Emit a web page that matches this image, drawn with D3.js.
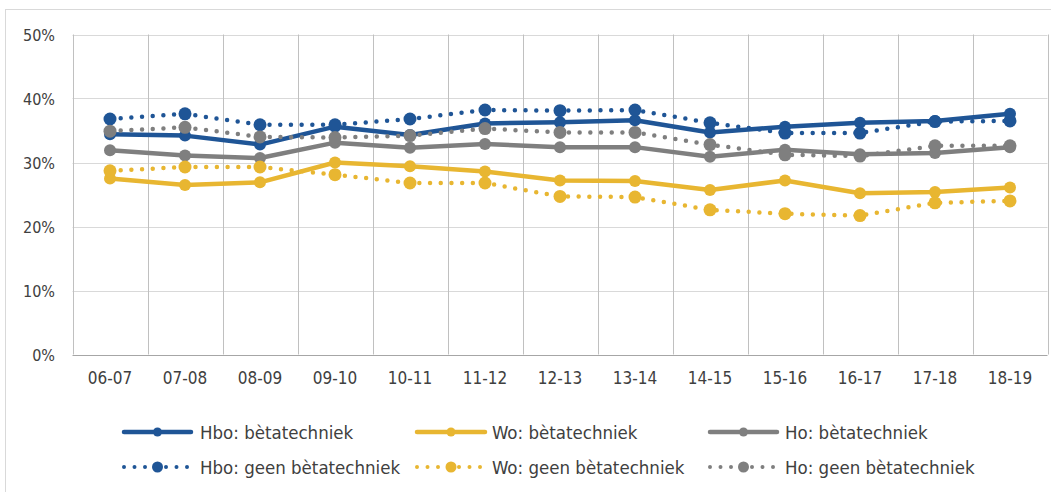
<!DOCTYPE html>
<html>
<head>
<meta charset="utf-8">
<script src="https://cdn.jsdelivr.net/npm/d3@7"></script>
<style>
  html, body { margin: 0; padding: 0; background: #ffffff; }
  svg { display: block; }
  text { font-family: "DejaVu Sans Condensed", "DejaVu Sans", sans-serif; font-stretch: condensed; fill: #404040; }
</style>
</head>
<body>
<svg id="chart" width="1051" height="492"></svg>
<script>
// Schooljaren
const categories = ["06-07", "07-08", "08-09", "09-10", "10-11", "11-12", "12-13",
                    "13-14", "14-15", "15-16", "16-17", "17-18", "18-19"];

// Percentages per reeks
const hboBeta     = [34.4, 34.2, 32.8, 35.6, 34.3, 36.1, 36.3, 36.6, 34.7, 35.6, 36.2, 36.5, 37.6];
const woBeta      = [27.5, 26.5, 26.9, 30.0, 29.4, 28.6, 27.2, 27.1, 25.7, 27.2, 25.2, 25.4, 26.1];
const hoBeta      = [31.9, 31.1, 30.7, 33.1, 32.3, 32.9, 32.4, 32.4, 30.9, 32.0, 31.3, 31.5, 32.4];
const hboGeenBeta = [36.8, 37.6, 35.9, 35.9, 36.8, 38.2, 38.1, 38.2, 36.2, 34.6, 34.6, 36.4, 36.5];
const woGeenBeta  = [28.7, 29.3, 29.3, 28.1, 26.8, 26.8, 24.7, 24.6, 22.6, 22.0, 21.7, 23.7, 24.0];
const hoGeenBeta  = [34.9, 35.5, 34.0, 33.9, 34.2, 35.3, 34.7, 34.7, 32.8, 31.2, 31.0, 32.6, 32.6];

const yTicks = [0, 10, 20, 30, 40, 50];

const seriesNames = ["Hbo: bètatechniek", "Wo: bètatechniek", "Ho: bètatechniek",
                     "Hbo: geen bètatechniek", "Wo: geen bètatechniek", "Ho: geen bètatechniek"];
const seriesValues = [hboBeta, woBeta, hoBeta, hboGeenBeta, woGeenBeta, hoGeenBeta];

const BLUE = "#1F5596", GOLD = "#E8B631", GREY = "#7F7F7F";
const styles = [
  { color: BLUE, dotted: false }, { color: GOLD, dotted: false }, { color: GREY, dotted: false },
  { color: BLUE, dotted: true },  { color: GOLD, dotted: true },  { color: GREY, dotted: true }
];
const series = seriesNames.map((name, i) => ({ name, values: seriesValues[i], ...styles[i] }));

const svg = d3.select("#chart");

// chart frame
svg.append("rect")
  .attr("x", 5.5).attr("y", 9.5)
  .attr("width", 1100).attr("height", 600)
  .attr("fill", "none").attr("stroke", "#d9d9d9").attr("stroke-width", 1);

const plot = { left: 72.5, right: 1047.5, top: 34.5, bottom: 354.5 };

const x = d3.scaleBand().domain(categories).range([plot.left, plot.right]);
const y = d3.scaleLinear().domain([0, 50]).range([plot.bottom, plot.top]);
const cx = c => x(c) + x.bandwidth() / 2;

// horizontal grid
svg.append("g").selectAll("line").data(yTicks.filter(t => t > 0)).join("line")
  .attr("x1", plot.left).attr("x2", plot.right)
  .attr("y1", d => Math.round(y(d)) + 0.5).attr("y2", d => Math.round(y(d)) + 0.5)
  .attr("stroke", "#d9d9d9").attr("stroke-width", 1);

// vertical grid at category boundaries
const bounds = categories.map(c => x(c)).concat([plot.right]);
svg.append("g").selectAll("line").data(bounds).join("line")
  .attr("x1", d => Math.round(d) + 0.5).attr("x2", d => Math.round(d) + 0.5)
  .attr("y1", plot.top).attr("y2", plot.bottom)
  .attr("stroke", "#c0c0c0").attr("stroke-width", 1);

// category axis line
svg.append("line")
  .attr("x1", plot.left).attr("x2", plot.right)
  .attr("y1", Math.round(y(0)) + 0.5).attr("y2", Math.round(y(0)) + 0.5)
  .attr("stroke", "#a6a6a6").attr("stroke-width", 1);

// y labels
svg.append("g").selectAll("text").data(yTicks).join("text")
  .attr("x", 55).attr("y", d => y(d) + 6)
  .attr("text-anchor", "end").attr("font-size", 16)
  .text(d => d + "%");

// x labels
svg.append("g").selectAll("text").data(categories).join("text")
  .attr("x", d => cx(d)).attr("y", 384)
  .attr("text-anchor", "middle").attr("font-size", 17)
  .text(d => d);

const line = d3.line().x((d, i) => cx(categories[i])).y(d => y(d));

const marks = svg.append("g");
series.forEach(s => {
  const g = marks.append("g");
  g.append("path")
    .datum(s.values)
    .attr("d", line)
    .attr("fill", "none")
    .attr("stroke", s.color)
    .attr("stroke-width", 4.5)
    .attr("stroke-linecap", "round")
    .attr("stroke-linejoin", "round")
    .attr("stroke-dasharray", s.dotted ? "0 10.7" : null);
  g.selectAll("circle").data(s.values).join("circle")
    .attr("cx", (d, i) => cx(categories[i]))
    .attr("cy", d => y(d))
    .attr("r", s.dotted ? 6.5 : 6)
    .attr("fill", s.color);
});

// legend
const legendX = [[122, 193, 200], [415, 487, 492], [708, 779, 785]];
const legendY = [432, 467];
const legend = svg.append("g");
series.forEach((s, i) => {
  const col = i % 3, row = Math.floor(i / 3);
  const [lx0, lx1, tx] = legendX[col];
  const ly = legendY[row];
  const g = legend.append("g");
  g.append("line")
    .attr("x1", lx0 + 2).attr("x2", lx1 - 2).attr("y1", ly).attr("y2", ly)
    .attr("stroke", s.color)
    .attr("stroke-width", s.dotted ? 4 : 4.5)
    .attr("stroke-linecap", "round")
    .attr("stroke-dasharray", s.dotted ? "0 10.5" : null);
  g.append("circle")
    .attr("cx", (lx0 + lx1) / 2).attr("cy", ly)
    .attr("r", s.dotted ? 5.5 : 4.5)
    .attr("fill", s.color);
  g.append("text")
    .attr("x", tx).attr("y", ly + 6.5)
    .attr("font-size", 18.5)
    .text(s.name);
});
</script>
</body>
</html>
